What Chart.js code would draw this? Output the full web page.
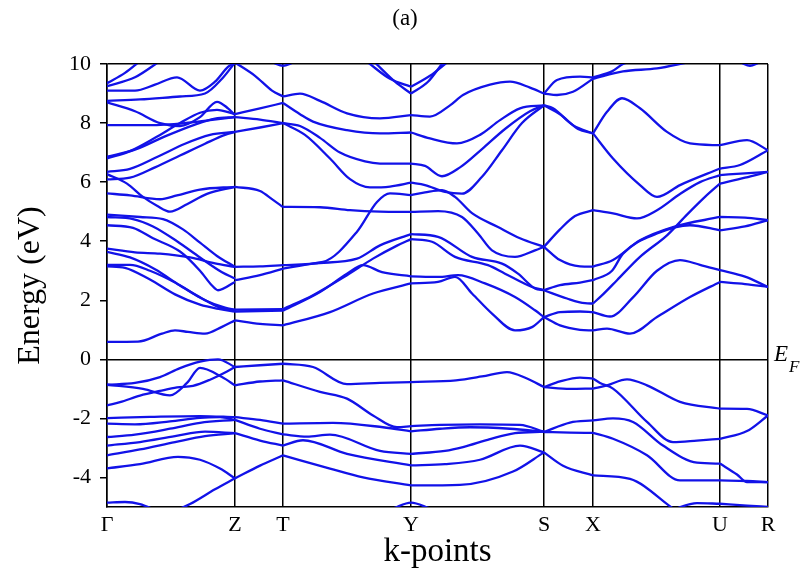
<!DOCTYPE html>
<html>
<head>
<meta charset="utf-8">
<script src="https://cdn.jsdelivr.net/npm/chart.js@4.4.0/dist/chart.umd.min.js"></script>
<style>
  html, body { margin: 0; padding: 0; background: #fff; }
  canvas { display: block; }
</style>
</head>
<body>
<canvas id="bands" width="809" height="580"></canvas>
<script>
// ---- k-path and tick labels ----
const kPoints = [0, 128, 176, 304, 437, 486, 613, 661];
const kLabels = ["Γ", "Z", "T", "Y", "S", "X", "U", "R"];
const eTicks = [-4, -2, 0, 2, 4, 6, 8, 10];

// ---- bands, per path segment: [k, E (eV)] ----
const bandsGZ = [
  [[0,0.59],[31,0.6],[55,0.87],[68,0.98],[81,0.93],[98,0.87],[115,1.1],[128,1.32]],
  [[0,3.15],[18,3.1],[43,2.7],[68,2.2],[93,1.85],[113,1.7],[128,1.62]],
  [[0,3.2],[23,3.2],[43,3.0],[68,2.6],[93,2.1],[113,1.75],[128,1.66]],
  [[0,3.64],[23,3.45],[48,3.05],[73,2.5],[98,2.0],[118,1.75],[128,1.68]],
  [[0,3.75],[28,3.62],[53,3.58],[83,3.45],[108,3.25],[128,3.13]],
  [[0,4.54],[26,4.45],[46,4.1],[73,3.65],[93,3.0],[105,2.5],[111,2.34],[128,2.62]],
  [[0,4.82],[26,4.75],[46,4.5],[70,4.0],[93,3.45],[115,2.95],[128,2.74]],
  [[0,4.9],[33,4.82],[56,4.75],[76,4.4],[93,3.95],[110,3.5],[128,3.13]],
  [[0,5.62],[23,5.55],[53,5.42],[70,5.55],[93,5.75],[128,5.84]],
  [[0,6.27],[20,5.95],[36,5.5],[50,5.2],[63,5.0],[80,5.25],[100,5.6],[128,5.84]],
  [[0,6.09],[23,6.15],[48,6.5],[73,6.9],[98,7.3],[118,7.6],[128,7.7]],
  [[0,6.35],[23,6.45],[50,6.85],[78,7.3],[103,7.6],[128,7.7]],
  [[0,6.86],[28,7.1],[58,7.55],[88,7.95],[108,8.15],[128,8.2]],
  [[0,6.8],[23,7.05],[48,7.5],[73,8.0],[93,8.35],[110,8.45],[128,8.3]],
  [[0,7.93],[43,7.93],[78,8.0],[103,8.1],[128,8.2]],
  [[0,8.7],[28,8.4],[53,8.0],[73,7.9],[93,8.2],[110,8.72],[121,8.5],[128,8.27]],
  [[0,8.75],[33,8.8],[73,8.9],[98,9.0],[115,9.5],[128,10.05]],
  [[0,9.1],[28,9.1],[48,9.3],[70,9.55],[93,9.1],[108,9.4],[121,9.9],[128,10.05]],
  [[0,9.25],[28,9.55],[53,10.1]],
  [[0,9.35],[18,9.7],[33,10.1]],
  [[0,-0.86],[28,-0.8],[53,-0.6],[73,-0.3],[93,-0.08],[111,0.0],[128,-0.26]],
  [[0,-0.86],[36,-1.0],[63,-1.22],[80,-0.8],[93,-0.29],[115,-0.6],[128,-0.88]],
  [[0,-1.56],[13,-1.45],[33,-1.23],[53,-1.07],[70,-0.95],[86,-0.9],[103,-0.69],[120,-0.41],[128,-0.26]],
  [[0,-1.99],[43,-1.95],[93,-1.92],[128,-1.96]],
  [[0,-2.18],[28,-2.2],[63,-2.1],[93,-1.98],[113,-1.96],[128,-2.05]],
  [[0,-2.63],[28,-2.55],[63,-2.35],[93,-2.15],[128,-2.05]],
  [[0,-2.92],[33,-2.8],[68,-2.6],[98,-2.45],[128,-2.5]],
  [[0,-3.25],[33,-3.05],[68,-2.8],[98,-2.6],[128,-2.5]],
  [[0,-3.69],[33,-3.55],[71,-3.3],[93,-3.4],[113,-3.7],[128,-4.03]],
  [[63,-5.2],[83,-4.9],[108,-4.4],[128,-4.03]],
  [[0,-4.85],[18,-4.83],[33,-4.9],[48,-5.1]]
];

const bandsZT = [
  [[128,10.05],[148,9.6],[165,9.1],[176,8.9]],
  [[128,8.3],[153,8.5],[176,8.68]],
  [[128,8.2],[153,8.12],[176,8.0]],
  [[128,7.7],[153,7.85],[176,8.0]],
  [[166,10.05],[176,9.94],[186,10.05]],
  [[128,5.84],[153,5.7],[166,5.4],[176,5.16]],
  [[128,3.13],[153,3.15],[176,3.19]],
  [[128,2.68],[153,2.85],[176,3.07]],
  [[128,1.68],[176,1.7]],
  [[128,1.62],[176,1.65]],
  [[128,1.32],[153,1.2],[176,1.15]],
  [[128,-0.26],[153,-0.2],[176,-0.15]],
  [[128,-0.88],[153,-0.75],[176,-0.71]],
  [[128,-1.96],[153,-2.05],[176,-2.18]],
  [[128,-2.05],[153,-2.35],[176,-2.54]],
  [[128,-2.5],[153,-2.75],[176,-2.92]],
  [[128,-4.03],[153,-3.6],[176,-3.25]]
];

const bandsTY = [
  [[261,10.05],[283,9.5],[304,9.23]],
  [[268,10.05],[288,9.4],[304,9.0]],
  [[176,8.9],[193,9.0],[213,8.75],[240,8.33],[273,8.16],[304,8.27]],
  [[176,8.68],[193,8.3],[206,8.05],[240,7.76],[273,7.65],[304,7.68]],
  [[176,8.0],[193,7.9],[213,7.5],[233,7.0],[258,6.7],[273,6.63],[304,6.63]],
  [[176,8.0],[198,7.6],[223,6.8],[243,6.1],[263,5.82],[283,5.85],[304,5.98]],
  [[176,5.16],[213,5.15],[243,5.05],[273,5.0],[304,4.99]],
  [[176,3.19],[216,3.3],[250,4.32],[270,5.33],[283,5.62],[304,5.56]],
  [[176,3.07],[206,3.24],[250,3.41],[273,3.86],[304,4.24]],
  [[176,1.7],[206,2.17],[240,2.85],[266,3.41],[290,3.85],[304,4.07]],
  [[176,1.65],[213,2.28],[240,2.9],[256,3.19],[275,2.95],[304,2.81]],
  [[176,1.15],[223,1.6],[266,2.23],[304,2.57]],
  [[176,-0.15],[206,-0.26],[240,-0.84],[273,-0.8],[304,-0.77]],
  [[176,-0.71],[213,-1.1],[240,-1.33],[266,-1.9],[290,-2.3],[304,-2.26]],
  [[176,-2.18],[226,-2.15],[276,-2.3],[304,-2.44]],
  [[176,-2.54],[200,-2.62],[223,-2.55],[273,-3.1],[304,-3.2]],
  [[176,-2.92],[196,-2.74],[240,-3.2],[304,-3.59]],
  [[176,-3.25],[223,-3.7],[256,-4.0],[304,-4.27]],
  [[286,-5.05],[304,-4.85],[323,-5.05]]
];

const bandsYS = [
  [[304,9.23],[323,9.6],[340,10.05]],
  [[304,9.0],[321,9.4],[336,10.05]],
  [[304,8.27],[323,8.22],[343,8.6],[356,8.95],[383,9.3],[403,9.4],[423,9.2],[437,9.0]],
  [[304,7.68],[323,7.48],[350,7.31],[373,7.6],[393,8.1],[413,8.5],[437,8.6]],
  [[304,6.63],[318,6.55],[335,6.2],[353,6.5],[375,7.12],[398,7.8],[423,8.4],[437,8.6]],
  [[304,5.98],[318,5.9],[338,5.67],[355,5.61],[375,6.18],[395,7.08],[415,8.0],[437,8.6]],
  [[304,5.56],[318,5.65],[335,5.73],[348,5.5],[365,4.95],[391,4.48],[413,4.1],[437,3.81]],
  [[304,4.99],[331,5.02],[355,4.82],[371,4.26],[385,3.69],[408,3.47],[428,3.69],[437,3.81]],
  [[304,4.24],[331,4.15],[365,3.47],[395,3.24],[411,2.9],[428,2.4],[437,2.34]],
  [[304,4.07],[325,3.98],[348,3.47],[381,3.19],[398,2.9],[425,2.45],[437,2.34]],
  [[304,2.81],[331,2.79],[351,2.85],[378,2.57],[408,2.11],[428,1.66],[437,1.43]],
  [[304,2.57],[331,2.62],[348,2.79],[365,2.23],[385,1.55],[408,0.98],[425,1.09],[437,1.43]],
  [[304,-0.77],[349,-0.71],[375,-0.58],[400,-0.43],[420,-0.65],[437,-0.94]],
  [[304,-2.26],[333,-2.22],[373,-2.2],[413,-2.22],[437,-2.45]],
  [[304,-2.44],[333,-2.35],[363,-2.3],[403,-2.35],[437,-2.45]],
  [[304,-3.2],[338,-3.1],[356,-2.97],[383,-2.7],[408,-2.5],[437,-2.45]],
  [[304,-3.59],[338,-3.55],[373,-3.4],[413,-2.92],[437,-3.15]],
  [[304,-4.27],[353,-4.25],[406,-3.8],[437,-3.15]]
];

const bandsSX = [
  [[437,9.0],[450,9.46],[473,9.57],[486,9.55]],
  [[437,9.0],[450,8.95],[466,9.06],[486,9.5]],
  [[437,8.6],[446,8.5],[466,7.93],[486,7.65]],
  [[437,8.6],[453,8.3],[471,7.8],[486,7.65]],
  [[437,3.81],[453,4.4],[468,4.85],[486,5.05]],
  [[437,3.81],[453,3.36],[473,3.15],[486,3.14]],
  [[437,2.34],[453,2.51],[473,2.6],[486,2.68]],
  [[437,2.34],[460,2.06],[478,1.9],[486,1.89]],
  [[437,1.43],[453,1.6],[473,1.62],[486,1.6]],
  [[437,1.43],[453,1.15],[473,1.0],[486,0.98]],
  [[437,-0.94],[453,-0.75],[473,-0.62],[486,-0.65]],
  [[437,-0.94],[463,-1.0],[486,-0.99]],
  [[437,-2.46],[463,-2.14],[486,-2.07]],
  [[437,-2.46],[463,-2.48],[486,-2.49]],
  [[437,-3.15],[456,-3.6],[486,-3.93]]
];

const bandsXU = [
  [[486,9.55],[505,9.75],[516,10.0],[525,10.1]],
  [[486,9.5],[516,9.75],[550,9.85],[580,10.05]],
  [[486,7.65],[500,8.38],[515,8.84],[533,8.5],[560,7.7],[583,7.31],[613,7.25]],
  [[486,7.65],[506,6.8],[533,5.9],[550,5.5],[573,5.9],[613,6.46]],
  [[486,5.05],[506,4.94],[530,4.77],[550,5.05],[573,5.6],[593,6.0],[613,6.24]],
  [[486,3.14],[506,3.36],[533,4.03],[566,4.48],[613,4.82]],
  [[486,2.68],[505,3.0],[516,3.58],[550,4.26],[583,4.54],[613,4.37]],
  [[486,1.89],[496,2.2],[510,2.68],[533,3.47],[560,4.2],[580,4.9],[598,5.5],[613,5.95]],
  [[486,1.6],[503,1.45],[526,2.1],[550,3.0],[573,3.36],[593,3.2],[613,3.02]],
  [[486,0.98],[500,1.04],[523,0.87],[550,1.43],[583,2.11],[613,2.62]],
  [[486,-0.65],[493,-0.8],[506,-0.99],[540,-2.12],[566,-2.8],[590,-2.75],[613,-2.69]],
  [[486,-0.99],[500,-0.88],[520,-0.68],[540,-0.88],[573,-1.44],[613,-1.67]],
  [[486,-2.07],[506,-2.0],[526,-2.12],[556,-2.92],[590,-3.5],[613,-3.53]],
  [[486,-2.49],[506,-2.69],[540,-3.25],[573,-4.1],[613,-4.1]],
  [[486,-3.93],[523,-4.05],[566,-5.05]],
  [[565,-5.1],[590,-4.87],[613,-4.89]]
];

const bandsUR = [
  [[613,7.25],[640,7.42],[661,7.08]],
  [[613,6.46],[633,6.58],[661,7.08]],
  [[613,6.24],[638,6.3],[661,6.35]],
  [[613,5.95],[638,6.15],[661,6.35]],
  [[613,4.82],[638,4.8],[661,4.71]],
  [[613,4.37],[638,4.5],[661,4.71]],
  [[613,3.02],[638,2.8],[661,2.45]],
  [[613,2.62],[638,2.55],[661,2.45]],
  [[634,10.05],[643,9.94],[652,10.05]],
  [[613,-1.67],[640,-1.68],[661,-1.9]],
  [[613,-2.69],[640,-2.43],[661,-1.9]],
  [[613,-3.53],[630,-3.9],[640,-4.16],[661,-4.16]],
  [[613,-4.1],[640,-4.12],[661,-4.16]],
  [[613,-4.89],[640,-4.95],[661,-5.0]]
];

const SERIF = "'Liberation Serif', 'DejaVu Serif', serif";
const BLUE = "#1212e8";

const allBands = [].concat(bandsGZ, bandsZT, bandsTY, bandsYS, bandsSX, bandsXU, bandsUR);

const datasets = allBands.map(band => ({
  data: band.map(([k, e]) => ({ x: k, y: e })),
  borderColor: BLUE,
  borderWidth: 2.3,
  pointRadius: 0,
  fill: false,
  cubicInterpolationMode: "monotone"
}));

// title "(a)" and the E_F marker
const extraText = {
  id: "extraText",
  afterDraw(chart) {
    const { ctx, chartArea, scales } = chart;
    const y0 = scales.y.getPixelForValue(0);
    ctx.save();
    ctx.fillStyle = "#000";
    ctx.textBaseline = "middle";
    ctx.textAlign = "center";
    ctx.font = "23px " + SERIF;
    ctx.fillText("(a)", 405, 19);
    ctx.textAlign = "left";
    ctx.font = "italic 23px " + SERIF;
    ctx.fillText("E", chartArea.right + 6, y0 - 4);
    ctx.font = "italic 17px " + SERIF;
    ctx.fillText("F", chartArea.right + 21, y0 + 8);
    ctx.restore();
  }
};

new Chart(document.getElementById("bands"), {
  type: "line",
  data: { datasets },
  plugins: [extraText],
  options: {
    responsive: false,
    animation: false,
    devicePixelRatio: 1,
    layout: { padding: { left: 0, right: 41, top: 64, bottom: 0 } },
    plugins: { legend: { display: false }, tooltip: { enabled: false } },
    scales: {
      x: {
        type: "linear",
        min: 0,
        max: 661,
        afterBuildTicks: s => { s.ticks = kPoints.map(v => ({ value: v })); },
        afterFit: s => { s.height = 73; },
        ticks: {
          callback: (v, i) => kLabels[i],
          autoSkip: false,
          maxRotation: 0,
          padding: 5,
          color: "#000",
          font: { family: SERIF, size: 22 }
        },
        grid: { color: "#000", lineWidth: 1.5, drawTicks: false },
        border: { color: "#000", width: 1.5 },
        title: {
          display: true,
          text: "k-points",
          color: "#000",
          font: { family: SERIF, size: 33 },
          padding: { top: 0, bottom: 8 }
        }
      },
      y: {
        type: "linear",
        min: -5,
        max: 10,
        afterBuildTicks: s => { s.ticks = eTicks.map(v => ({ value: v })); },
        afterFit: s => { s.width = 107; },
        ticks: {
          callback: v => String(v),
          padding: 9,
          color: "#000",
          font: { family: SERIF, size: 22 }
        },
        grid: {
          color: c => (c.tick && (c.tick.value === 0 || c.tick.value === 10)) ? "#000" : "rgba(0,0,0,0)",
          tickColor: "#000",
          tickLength: 7,
          lineWidth: 1.5
        },
        border: { color: "#000", width: 1.5 },
        title: {
          display: true,
          text: "Energy (eV)",
          color: "#000",
          font: { family: SERIF, size: 32 },
          padding: { top: 11, bottom: 0 }
        }
      }
    }
  }
});
</script>
</body>
</html>
